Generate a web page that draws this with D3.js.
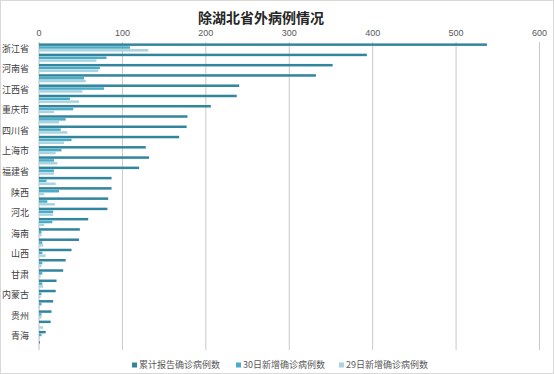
<!DOCTYPE html>
<html>
<head>
<meta charset="utf-8">
<script src="https://cdn.jsdelivr.net/npm/d3@7"></script>
<style>
  body { margin: 0; background: #fff; }
  svg { display: block; font-family: "Noto Sans CJK SC", "Microsoft YaHei", sans-serif; }
</style>
</head>
<body>
<svg id="chart" width="554" height="374"></svg>
<script>
// provinces, sorted as in the source sheet (only every other one is labelled)
const provinces = ["浙江省", "广东省", "河南省", "湖南省", "江西省", "安徽省", "重庆市", "山东省",
  "四川省", "江苏省", "上海市", "北京市", "福建省", "广西", "陕西", "云南", "河北", "黑龙江",
  "海南", "辽宁", "山西", "天津", "甘肃", "宁夏", "内蒙古", "新疆", "贵州", "吉林", "青海", "西藏"];

const cumulative = [537, 393, 352, 332, 240, 237, 206, 178, 177, 168, 128, 132, 120, 87, 87, 83, 82, 59,
  49, 48, 39, 32, 29, 21, 20, 17, 15, 14, 8, 1];
const new30 = [109, 81, 73, 54, 78, 37, 41, 32, 26, 39, 27, 18, 18, 9, 24, 10, 17, 16,
  3, 4, 4, 4, 4, 4, 3, 3, 3, 0, 3, 0];
const new29 = [131, 69, 71, 56, 52, 48, 18, 24, 34, 30, 20, 22, 18, 20, 6, 19, 17, 6,
  3, 5, 8, 3, 2, 5, 2, 1, 3, 5, 1, 0];

const seriesNames = ["累计报告确诊病例数", "30日新增确诊病例数", "29日新增确诊病例数"];
const seriesColors = ["#31859c", "#4bacc6", "#a8d3e0"];
const xTicks = [0, 100, 200, 300, 400, 500, 600];

const svg = d3.select("#chart");
const W = 554, H = 374;
const margin = { top: 42, right: 15, bottom: 24, left: 38.5 };

const rows = provinces.map((p, i) => ({
  name: p,
  values: [cumulative[i], new30[i], new29[i]]
}));

// outer border
svg.append("rect")
  .attr("x", 0.5).attr("y", 0.5)
  .attr("width", W - 1).attr("height", H - 1)
  .attr("fill", "#fff").attr("stroke", "#d9d9d9");

const x = d3.scaleLinear().domain([0, 600]).range([margin.left, 539]);
const y0 = d3.scaleBand().domain(provinces).range([margin.top, 350]);
const y1 = d3.scaleBand().domain([0, 1, 2])
  .range([1.4, y0.bandwidth() - 0.7]).paddingInner(0.12);

// title
svg.append("text")
  .attr("x", 261).attr("y", 23)
  .attr("text-anchor", "middle")
  .style("font-size", "14px").style("font-weight", "bold")
  .attr("fill", "#262626")
  .text("除湖北省外病例情况");

// vertical grid
svg.append("g").selectAll("line")
  .data(xTicks)
  .join("line")
  .attr("x1", d => x(d) + 0.5).attr("x2", d => x(d) + 0.5)
  .attr("y1", margin.top).attr("y2", 350)
  .attr("stroke", d => d === 0 ? "#bfbfbf" : "#c8c8c8")
  .attr("stroke-width", 1);

// top axis labels
const axisTop = svg.append("g")
  .attr("transform", `translate(0,${margin.top - 6})`)
  .call(d3.axisTop(x).tickValues(xTicks).tickSize(0).tickPadding(0));
axisTop.select(".domain").remove();
axisTop.selectAll("text")
  .style("font-size", "9px")
  .attr("fill", "#595959");

// category labels (every other one)
svg.append("g").selectAll("text")
  .data(provinces.filter((d, i) => i % 2 === 0))
  .join("text")
  .attr("x", 29)
  .attr("y", d => y0(d) + y0.bandwidth() / 2 + 1.5)
  .attr("dy", "0.35em")
  .attr("text-anchor", "end")
  .style("font-size", "9px")
  .attr("fill", "#404040")
  .text(d => d);

// bars
const group = svg.append("g").selectAll("g")
  .data(rows)
  .join("g")
  .attr("transform", d => `translate(0,${y0(d.name)})`);

group.selectAll("rect")
  .data(d => d.values.map((v, k) => ({ k, v })))
  .join("rect")
  .attr("x", x(0) + 0.5)
  .attr("y", d => y1(d.k))
  .attr("width", d => Math.max(0, x(d.v) - x(0)))
  .attr("height", y1.bandwidth())
  .attr("fill", d => seriesColors[d.k]);

// legend
const legendX = [132, 236, 339];
const legend = svg.append("g").selectAll("g")
  .data(seriesNames)
  .join("g")
  .attr("transform", (d, i) => `translate(${legendX[i]},365)`);

legend.append("rect")
  .attr("x", 0).attr("y", -2.5)
  .attr("width", 5).attr("height", 5)
  .attr("fill", (d, i) => seriesColors[i]);

legend.append("text")
  .attr("x", 7).attr("y", 0)
  .attr("dy", "0.35em")
  .style("font-size", "9px")
  .attr("fill", "#595959")
  .text(d => d);
</script>
</body>
</html>
